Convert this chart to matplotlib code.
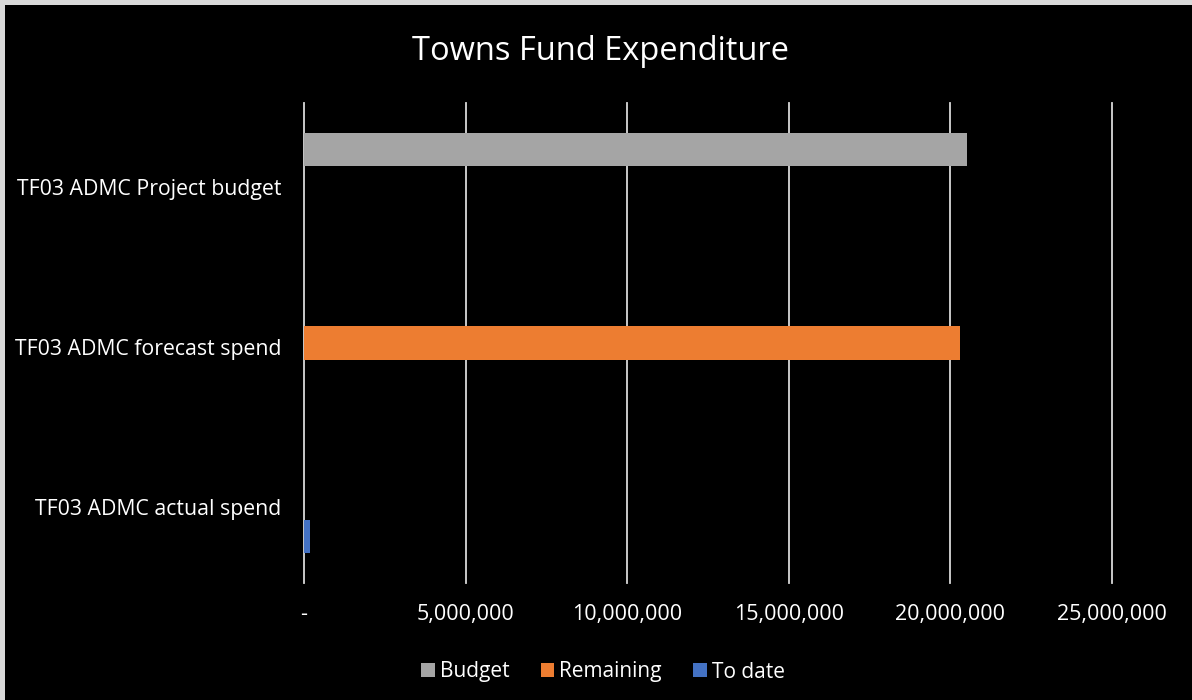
import matplotlib
matplotlib.use("Agg")
import matplotlib.pyplot as plt
import matplotlib.transforms as mtransforms
from matplotlib.patches import Patch, Rectangle
from matplotlib.ticker import FuncFormatter

# ---- data ----
categories = ["TF03 ADMC Project budget", "TF03 ADMC forecast spend", "TF03 ADMC actual spend"]
series_names = ["Budget", "Remaining", "To date"]
budget = [20500000, 0, 0]
remaining = [0, 20300000, 0]
to_date = [0, 0, 180000]
xticks = [0, 5000000, 10000000, 15000000, 20000000, 25000000]
title = "Towns Fund Expenditure"

colors = ["#a5a5a5", "#ed7d31", "#4472c4"]

plt.rcParams['font.family'] = ['Open Sans', 'DejaVu Sans']

W, H = 1192, 700
fig = plt.figure(figsize=(W / 100, H / 100), dpi=100, facecolor='black')

# light frame on top and left edges
fig.patches.append(Rectangle((0, 1 - 5 / H), 1, 5 / H, transform=fig.transFigure,
                             facecolor='#d9d9d9', edgecolor='none', zorder=0))
fig.patches.append(Rectangle((0, 0), 5 / W, 1, transform=fig.transFigure,
                             facecolor='#d9d9d9', edgecolor='none', zorder=0))

ax = fig.add_axes([304 / W, 1 - 583 / H, (1112 - 304) / W, 480 / H])
ax.set_facecolor('black')

ypos = list(range(len(categories)))
h = 0.209
ax.barh([y - h for y in ypos], budget, height=h, color=colors[0], label=series_names[0], zorder=3)
ax.barh([y for y in ypos], remaining, height=h, color=colors[1], label=series_names[1], zorder=3)
ax.barh([y + h for y in ypos], to_date, height=h, color=colors[2], label=series_names[2], zorder=3)

ax.set_xlim(xticks[0], xticks[-1])
ax.set_ylim(len(categories) - 0.5, -0.5)
ax.set_xticks(xticks)
ax.xaxis.set_major_formatter(FuncFormatter(lambda v, p: '-' if v == 0 else f'{v:,.0f}'))
ax.set_yticks(ypos)
ax.set_yticklabels(categories)

ax.grid(axis='x', color='#d9d9d9', linewidth=1.3, zorder=1)
ax.set_axisbelow(True)
for gl in ax.get_xgridlines():
    gl.set_clip_on(False)

for s in ax.spines.values():
    s.set_visible(False)
ax.tick_params(axis='x', length=0, pad=15, labelsize=15.5, colors='white')
ax.tick_params(axis='y', length=0, pad=16.5, labelsize=15.3, colors='white')

offset = mtransforms.ScaledTranslation(0, -4 / 100, fig.dpi_scale_trans)
for lbl in ax.get_yticklabels():
    lbl.set_transform(lbl.get_transform() + offset)

fig.text(601 / W, 1 - 52 / H, title, ha='center', va='center', color='white', fontsize=23.5)

handles = [Patch(facecolor=c, edgecolor='none') for c in colors]
fig.legend(handles, series_names, loc='center', bbox_to_anchor=(603 / W, 1 - 672 / H),
           ncol=3, frameon=False, labelcolor='white', fontsize=15,
           handlelength=0.65, handleheight=0.65, handletextpad=0.25, columnspacing=1.5)

fig.savefig('out.png', dpi=100, facecolor='black')
